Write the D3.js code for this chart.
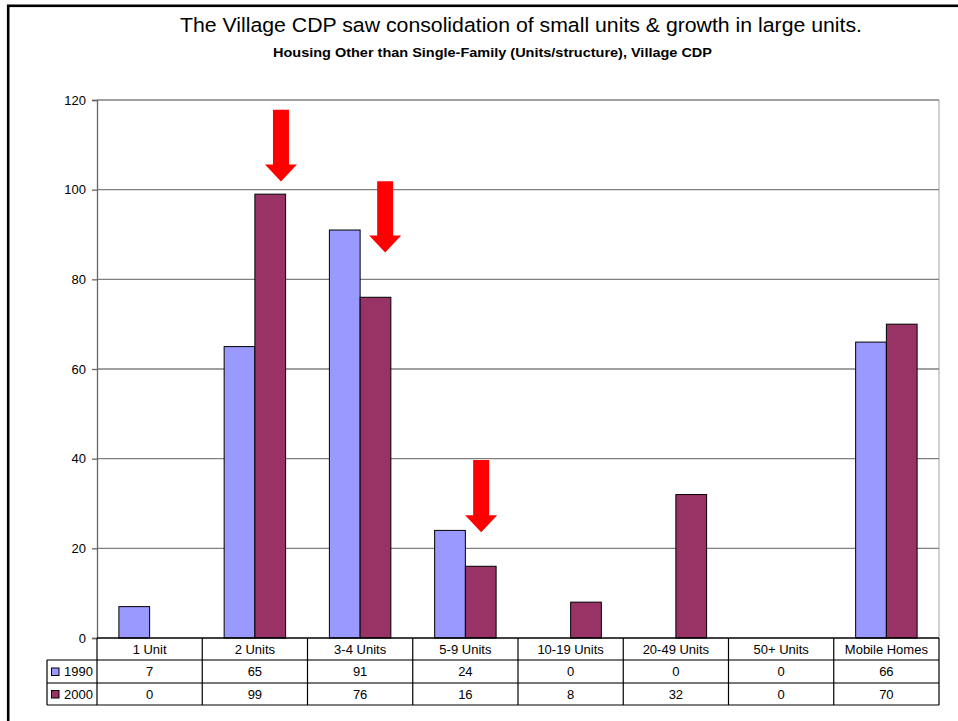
<!DOCTYPE html>
<html>
<head>
<meta charset="utf-8">
<script src="https://cdn.jsdelivr.net/npm/d3@7"></script>
<style>
  html, body { margin: 0; padding: 0; background: #fff; }
  svg { display: block; font-family: "Liberation Sans", Arial, sans-serif; }
</style>
</head>
<body>
<svg id="chart" width="958" height="721"></svg>
<script>
// ---- data ----
const categories = ["1 Unit", "2 Units", "3-4 Units", "5-9 Units", "10-19 Units", "20-49 Units", "50+ Units", "Mobile Homes"];
const seriesNames = ["1990", "2000"];
const values1990 = [7, 65, 91, 24, 0, 0, 0, 66];
const values2000 = [0, 99, 76, 16, 8, 32, 0, 70];
const seriesColors = ["#9999FF", "#993366"];
const yTicks = [0, 20, 40, 60, 80, 100, 120];
const title = "The Village CDP saw consolidation of small units & growth in large units.";
const subtitle = "Housing Other than Single-Family (Units/structure), Village CDP";
// annotation arrows: category, fractional position in band, top value, tip value
const arrowCats = ["2 Units", "3-4 Units", "5-9 Units"];
const arrowPos = [0.748, 0.738, 0.65];
const arrowTop = [117.8, 101.9, 39.7];
const arrowTip = [101.8, 86.0, 23.6];

const seriesValues = [values1990, values2000];

// ---- layout ----
const svg = d3.select("#chart");
const plot = { left: 97, right: 939, top: 100, bottom: 638 };
const rowH = [22, 23, 22];

// outer border
svg.append("rect").attr("x", 8.2).attr("y", 5.8).attr("width", 980).attr("height", 760)
  .attr("fill", "none").attr("stroke", "#000").attr("stroke-width", 2.6);

// titles
svg.append("text").attr("x", 521).attr("y", 32).attr("text-anchor", "middle")
  .attr("font-size", 20.5).attr("fill", "#000")
  .attr("textLength", 682).attr("lengthAdjust", "spacingAndGlyphs").text(title);
svg.append("text").attr("x", 492.5).attr("y", 57).attr("text-anchor", "middle")
  .attr("font-size", 12.5).attr("font-weight", "bold").attr("fill", "#000")
  .attr("textLength", 439).attr("lengthAdjust", "spacingAndGlyphs").text(subtitle);

const x = d3.scaleBand().domain(categories).range([plot.left, plot.right]).padding(0);
const bw = x.bandwidth();
const groupW = bw * 0.584;
const xs = d3.scaleBand().domain(seriesNames).range([(bw - groupW) / 2, (bw + groupW) / 2]).padding(0);
const y = d3.scaleLinear().domain([0, 120]).range([plot.bottom, plot.top]);

// plot frame
svg.append("line").attr("x1", plot.right).attr("x2", plot.right).attr("y1", plot.top).attr("y2", plot.bottom)
  .attr("stroke", "#c0c0c0").attr("stroke-width", 1.5);

// gridlines
svg.append("g").selectAll("line").data(yTicks.filter(d => d > 0)).join("line")
  .attr("x1", plot.left).attr("x2", plot.right)
  .attr("y1", d => y(d)).attr("y2", d => y(d))
  .attr("stroke", "#808080").attr("stroke-width", 1.3);

// y axis
const yAxis = d3.axisLeft(y).tickValues(yTicks).tickSize(5).tickPadding(6).tickFormat(d3.format("d"));
const ya = svg.append("g").attr("transform", `translate(${plot.left},0)`).call(yAxis);
ya.select(".domain").attr("stroke", "#666").attr("stroke-width", 1.3);
ya.selectAll(".tick line").attr("stroke", "#666").attr("stroke-width", 1.3);
ya.selectAll(".tick text").attr("font-size", 13).attr("fill", "#000")
  .attr("font-family", "Liberation Sans, Arial, sans-serif");

// bars
const groups = svg.append("g").selectAll("g").data(categories).join("g")
  .attr("transform", d => `translate(${x(d)},0)`);
groups.selectAll("rect")
  .data((c, i) => seriesNames.map((s, j) => ({ s, j, v: seriesValues[j][i] })).filter(d => d.v > 0))
  .join("rect")
  .attr("x", d => xs(d.s))
  .attr("width", xs.bandwidth())
  .attr("y", d => y(d.v))
  .attr("height", d => y(0) - y(d.v))
  .attr("fill", d => seriesColors[d.j])
  .attr("stroke", "#000").attr("stroke-width", 1);

// arrows
const shaftW = 16, headW = 32, headH = 17;
arrowCats.forEach((c, i) => {
  const cx = x(c) + bw * arrowPos[i];
  const yt = y(arrowTop[i]), yp = y(arrowTip[i]);
  const yb = yp - headH;
  const p = d3.path();
  p.moveTo(cx - shaftW / 2, yt);
  p.lineTo(cx + shaftW / 2, yt);
  p.lineTo(cx + shaftW / 2, yb);
  p.lineTo(cx + headW / 2, yb);
  p.lineTo(cx, yp);
  p.lineTo(cx - headW / 2, yb);
  p.lineTo(cx - shaftW / 2, yb);
  p.closePath();
  svg.append("path").attr("d", p.toString()).attr("fill", "#FF0000");
});

// ---- data table ----
const tY0 = plot.bottom;
const tY1 = tY0 + rowH[0];
const tY2 = tY1 + rowH[1];
const tY3 = tY2 + rowH[2];
const legendLeft = 47;
const tbl = svg.append("g");

// horizontal lines
tbl.append("line").attr("x1", legendLeft).attr("x2", plot.right).attr("y1", tY1).attr("y2", tY1)
  .attr("stroke", "#777").attr("stroke-width", 2);
tbl.append("line").attr("x1", legendLeft).attr("x2", plot.right).attr("y1", tY2).attr("y2", tY2)
  .attr("stroke", "#777").attr("stroke-width", 2);
tbl.append("line").attr("x1", legendLeft).attr("x2", plot.right).attr("y1", tY3).attr("y2", tY3)
  .attr("stroke", "#000").attr("stroke-width", 1.2);
// x axis line
tbl.append("line").attr("x1", plot.left).attr("x2", plot.right).attr("y1", tY0).attr("y2", tY0)
  .attr("stroke", "#000").attr("stroke-width", 1.3);
// vertical lines
const vx = categories.map(c => x(c)).concat([plot.right]);
tbl.selectAll("line.v").data(vx).join("line").attr("class", "v")
  .attr("x1", d => d).attr("x2", d => d).attr("y1", tY0).attr("y2", tY3)
  .attr("stroke", "#000").attr("stroke-width", 1.2);
tbl.append("line").attr("x1", legendLeft).attr("x2", legendLeft).attr("y1", tY1).attr("y2", tY3)
  .attr("stroke", "#000").attr("stroke-width", 1.2);

// header labels
tbl.selectAll("text.cat").data(categories).join("text").attr("class", "cat")
  .attr("x", d => x(d) + bw / 2).attr("y", (tY0 + tY1) / 2 + 4.5)
  .attr("text-anchor", "middle").attr("font-size", 13).attr("fill", "#000").text(d => d);

// rows
const rowTops = [tY1, tY2];
seriesNames.forEach((s, j) => {
  const cy = (rowTops[j] + rowTops[j] + rowH[j + 1]) / 2;
  tbl.append("rect").attr("x", 51.5).attr("y", cy - 3.5).attr("width", 7.5).attr("height", 7.5)
    .attr("fill", seriesColors[j]).attr("stroke", "#000").attr("stroke-width", 1);
  tbl.append("text").attr("x", 64).attr("y", cy + 4.5).attr("font-size", 13).attr("fill", "#000").text(s);
  tbl.selectAll("text.v" + j).data(seriesValues[j]).join("text").attr("class", "v" + j)
    .attr("x", (d, i) => x(categories[i]) + bw / 2).attr("y", cy + 4.5)
    .attr("text-anchor", "middle").attr("font-size", 13).attr("fill", "#000").text(d => d);
});
</script>
</body>
</html>
